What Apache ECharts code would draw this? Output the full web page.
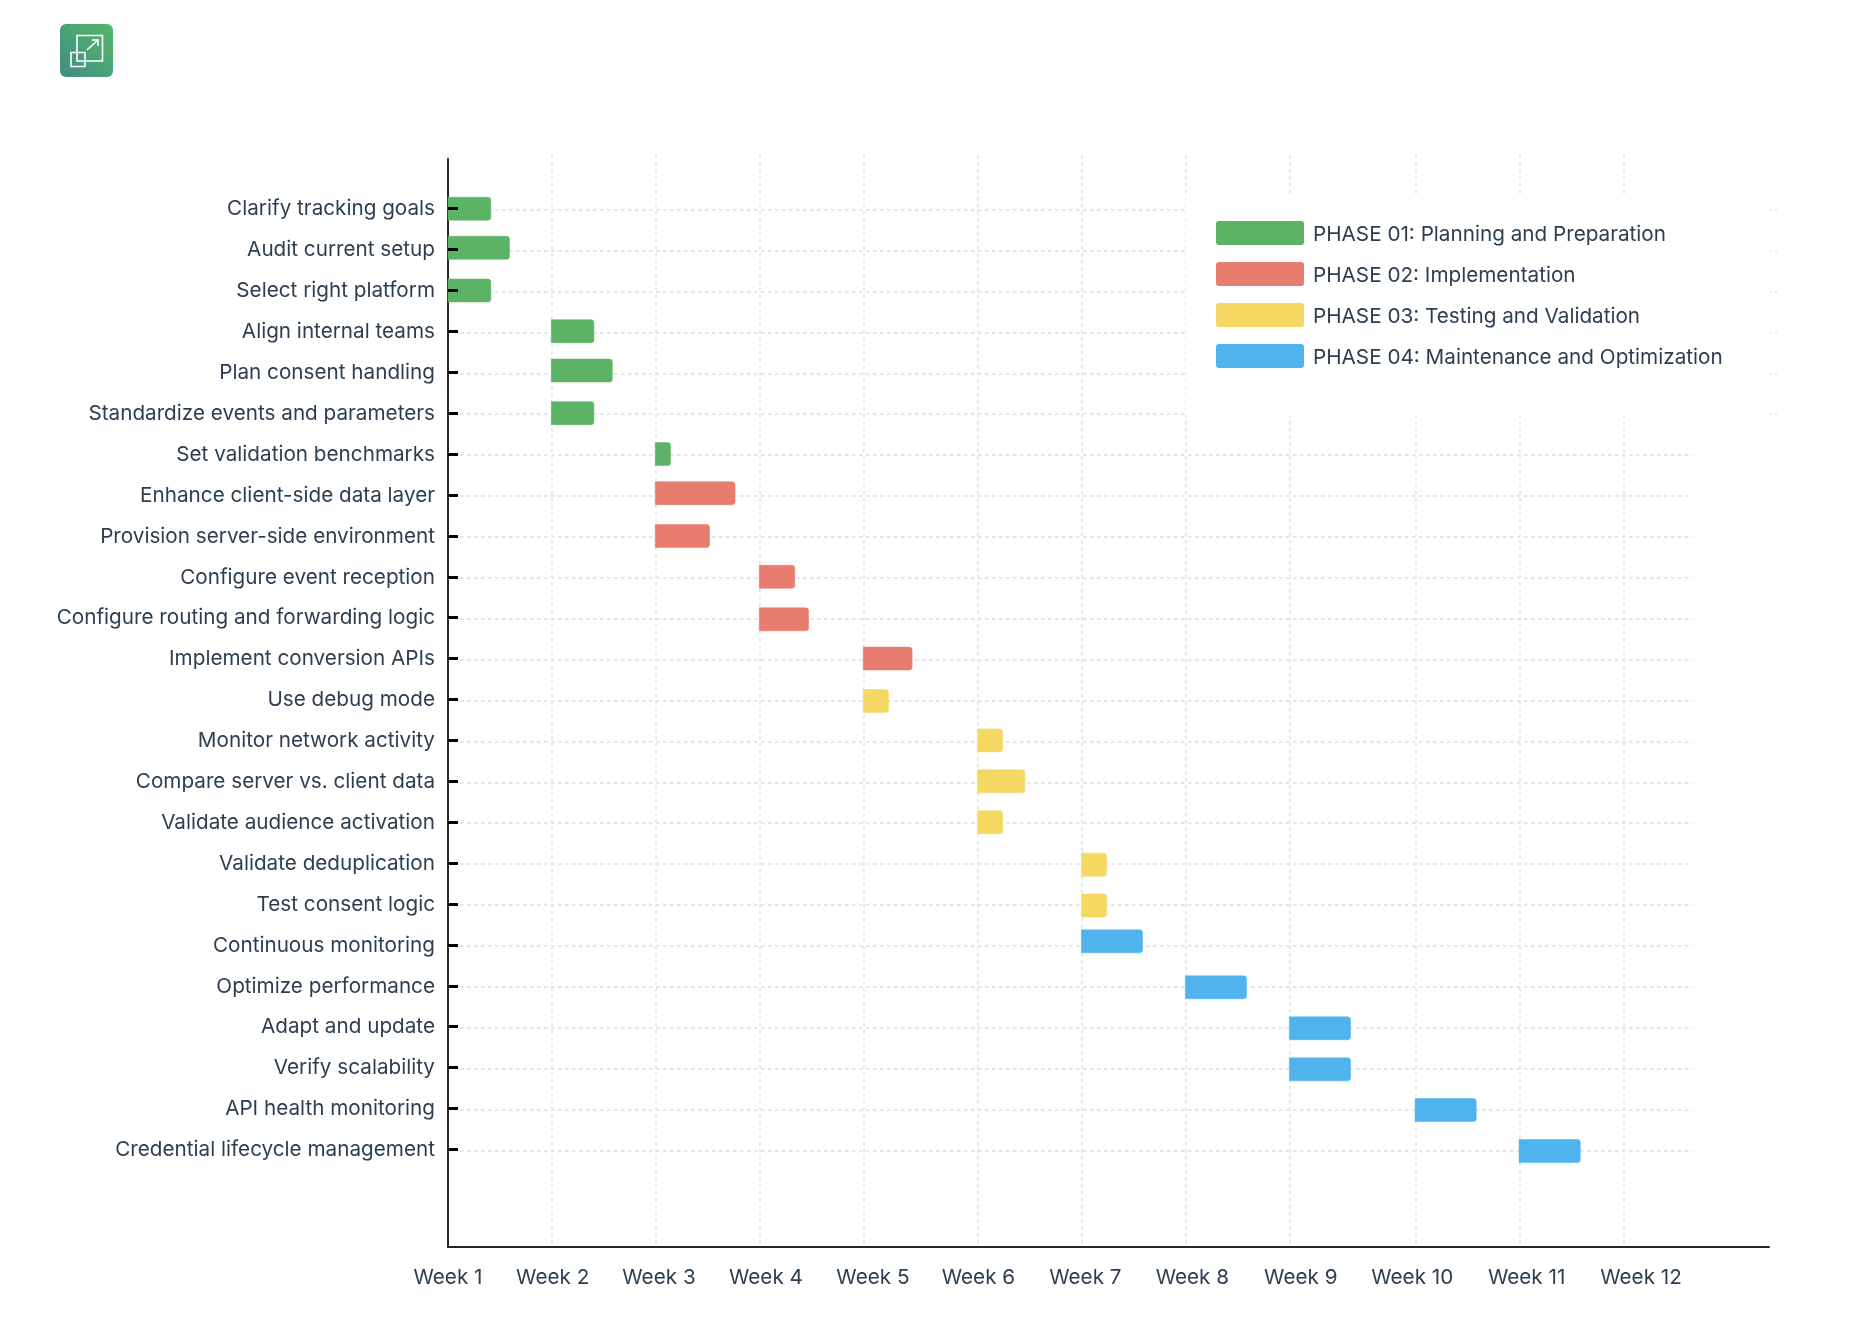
<!DOCTYPE html>
<html>
<head>
<meta charset="utf-8">
<title>Tracking rollout schedule</title>
<script src="https://cdn.jsdelivr.net/npm/echarts@6/dist/echarts.min.js"></script>
<style>
  html, body { margin: 0; padding: 0; background: #fff; }
  #chart { width: 1850px; height: 1318px; }
</style>
</head>
<body>
<div id="chart"></div>
<script>
// Schedule rows, top to bottom
const taskNames = [
  'Clarify tracking goals', 'Audit current setup', 'Select right platform',
  'Align internal teams', 'Plan consent handling', 'Standardize events and parameters',
  'Set validation benchmarks', 'Enhance client-side data layer', 'Provision server-side environment',
  'Configure event reception', 'Configure routing and forwarding logic', 'Implement conversion APIs',
  'Use debug mode', 'Monitor network activity', 'Compare server vs. client data',
  'Validate audience activation', 'Validate deduplication', 'Test consent logic',
  'Continuous monitoring', 'Optimize performance', 'Adapt and update',
  'Verify scalability', 'API health monitoring', 'Credential lifecycle management'
];
// Start of each task, in days from the project start
const taskStart = [
  0, 0, 0, 6.95, 6.95, 6.95, 13.95, 13.95, 13.95, 20.95, 20.95, 27.95,
  27.95, 35.63, 35.63, 35.63, 42.63, 42.63, 42.63, 49.63, 56.63, 56.63, 65.09, 72.09
];
// Length of each task, in days
const taskLength = [
  2.88, 4.14, 2.88, 2.87, 4.11, 2.87, 1.03, 5.37, 3.65, 2.39, 3.32, 3.29,
  1.7, 1.7, 3.2, 1.7, 1.7, 1.7, 4.12, 4.12, 4.12, 4.12, 4.12, 4.12
];
// Vertical placement of each bar relative to its row
const taskRowShift = [
  0, -0.044, 0, -0.005, -0.044, 0, 0, -0.044, 0, 0, 0.039, 0,
  0.037, 0, 0, 0, 0.039, 0.037, -0.088, 0.037, 0.039, 0.042, 0.037, 0.039
];
// Phase index of each task
const taskPhase = [
  0, 0, 0, 0, 0, 0, 0, 1, 1, 1, 1, 1,
  2, 2, 2, 2, 2, 2, 3, 3, 3, 3, 3, 3
];
const phaseNames = [
  'PHASE 01: Planning and Preparation',
  'PHASE 02: Implementation',
  'PHASE 03: Testing and Validation',
  'PHASE 04: Maintenance and Optimization'
];
const phaseColors = ['#5cb366', '#e87c6e', '#f4d862', '#4fb3ee'];
const phaseEdges = ['rgba(92,179,102,.5)', 'rgba(232,124,110,.5)', 'rgba(244,216,98,.5)', 'rgba(79,179,238,.5)'];
const weekLabels = ['Week 1', 'Week 2', 'Week 3', 'Week 4', 'Week 5', 'Week 6',
  'Week 7', 'Week 8', 'Week 9', 'Week 10', 'Week 11', 'Week 12'];
// Where each week's gridline falls and where its label sits, in days
const weekGridDays = [0, 7, 14, 21, 28, 35.67, 42.67, 49.67, 56.67, 65.13, 72.13, 79.13];
const weekLabelDays = [0, 7.05, 14.2, 21.4, 28.6, 35.7, 42.9, 50.1, 57.4, 64.9, 72.6, 80.3];
const rowIndex = taskNames.map((_, i) => i);

const TEXT = '#2c3e50';
const FONT = 'Inter';
const FONT_SIZE = 20.7;
const GRID_LINE = { color: '#e6e6e6', width: 1.8, type: [3.5, 3.5] };
const ROW_MIN = -1.313, ROW_MAX = 25.386;
const PLOT = { top: 155, height: 1092 };
const DAYS_PER_PX = 7 / 104;

const bareX = (gridIndex, max) => ({
  type: 'value', gridIndex, min: 0, max, position: 'bottom',
  axisLine: { show: false }, axisTick: { show: false }, axisLabel: { show: false }, splitLine: { show: false }
});
const bareY = (gridIndex, values) => ({
  type: 'value', gridIndex, inverse: true, min: ROW_MIN, max: ROW_MAX,
  axisLine: { show: false },
  axisTick: { show: false, customValues: values },
  axisLabel: { show: false },
  splitLine: values.length ? { show: true, lineStyle: GRID_LINE } : { show: false }
});

// One custom series per phase so the legend lists the phases
const series = phaseNames.map((name, p) => ({
  name,
  type: 'custom',
  xAxisIndex: 0,
  yAxisIndex: 0,
  itemStyle: { color: phaseColors[p] },
  encode: { x: [0, 1], y: 2 },
  clip: false,
  data: taskNames
    .map((_, i) => [taskStart[i], taskStart[i] + taskLength[i], i + taskRowShift[i], taskPhase[i]])
    .filter(d => d[3] === p),
  renderItem(params, api) {
    const a = api.coord([api.value(0), api.value(2)]);
    const b = api.coord([api.value(1), api.value(2)]);
    return {
      type: 'rect',
      shape: { x: a[0], y: a[1] - 11.5, width: b[0] - a[0], height: 23, r: [0, 3, 3, 0] },
      style: { fill: phaseColors[p], stroke: phaseEdges[p], lineWidth: 1 }
    };
  }
}));

const chart = echarts.init(document.getElementById('chart'), null, { renderer: 'canvas' });
chart.setOption({
  animation: false,
  backgroundColor: '#ffffff',
  textStyle: { fontFamily: FONT },
  grid: [
    { left: 448, width: 1329, ...PLOT },                // bars, week gridlines, labels
    { left: 448, width: 1321, top: 159, height: 1088 }, // axis frame
    { left: 460, width: 1233, ...PLOT },                // row gridlines
    { left: 1691, width: 86, ...PLOT }                  // row gridlines running past the plot at the top
  ],
  xAxis: [
    {
      type: 'value', gridIndex: 0, min: 0, max: 1329 * DAYS_PER_PX, position: 'bottom',
      axisLine: { show: false },
      axisTick: { show: false, customValues: weekGridDays },
      axisLabel: {
        customValues: weekLabelDays,
        formatter: (v) => weekLabels[weekLabelDays.indexOf(v)],
        color: TEXT, fontFamily: FONT, fontSize: FONT_SIZE, margin: 20,
        showMinLabel: true, showMaxLabel: true, hideOverlap: false
      },
      splitLine: { show: true, lineStyle: GRID_LINE }
    },
    {
      ...bareX(1, 1),
      axisLine: { show: true, onZero: false, lineStyle: { color: '#262626', width: 2 } }
    },
    bareX(2, 1),
    bareX(3, 1)
  ],
  yAxis: [
    {
      type: 'value', gridIndex: 0, inverse: true, min: ROW_MIN, max: ROW_MAX, z: 5,
      axisLine: { show: false },
      axisTick: { show: true, inside: true, length: 10, customValues: rowIndex, lineStyle: { color: '#000', width: 3 } },
      axisLabel: {
        customValues: rowIndex,
        formatter: (v) => '{t|' + taskNames[Math.round(v)] + '}',
        color: TEXT, fontFamily: FONT, fontSize: FONT_SIZE, margin: 13,
        rich: { t: { color: TEXT, fontFamily: FONT, fontSize: FONT_SIZE, padding: [1, 0, 0, 0] } },
        showMinLabel: true, showMaxLabel: true, hideOverlap: false
      },
      splitLine: { show: false }
    },
    {
      ...bareY(1, []),
      min: 0, max: 1,
      axisLine: { show: true, onZero: false, lineStyle: { color: '#262626', width: 2 } }
    },
    bareY(2, rowIndex.map(i => i + 0.024)),
    bareY(3, rowIndex.slice(0, 6).map(i => i + 0.024))
  ],
  legend: {
    orient: 'vertical',
    left: 1186,
    top: 195,
    padding: [26, 48, 48, 30],
    backgroundColor: '#ffffff',
    itemWidth: 88,
    itemHeight: 24,
    itemGap: 17,
    selectedMode: false,
    icon: 'path://M3,0H85A3,3 0 0 1 88,3V21A3,3 0 0 1 85,24H3A3,3 0 0 1 0,21V3A3,3 0 0 1 3,0Z',
    formatter: (name) => '{t|' + name + '}',
    textStyle: {
      color: TEXT, fontFamily: FONT, fontSize: FONT_SIZE,
      rich: { t: { color: TEXT, fontFamily: FONT, fontSize: FONT_SIZE, padding: [3, 0, 0, 4] } }
    },
    data: phaseNames
  },
  series,
  // App badge in the corner
  graphic: [{
    type: 'group',
    left: 60,
    top: 24,
    children: [
      {
        type: 'rect',
        shape: { x: 0, y: 0, width: 53, height: 53, r: 6 },
        style: {
          fill: new echarts.graphic.LinearGradient(0, 1, 1, 0, [
            { offset: 0, color: '#408c84' },
            { offset: 1, color: '#54b968' }
          ])
        }
      },
      { type: 'rect', shape: { x: 17, y: 11.5, width: 25.5, height: 25.5 }, style: { fill: 'none', stroke: '#fff', lineWidth: 1.6 } },
      { type: 'rect', shape: { x: 11, y: 28.5, width: 14, height: 14 }, style: { fill: 'none', stroke: '#fff', lineWidth: 1.6 } },
      { type: 'line', shape: { x1: 27, y1: 26, x2: 38, y2: 16 }, style: { stroke: '#fff', lineWidth: 1.6 } },
      { type: 'polyline', shape: { points: [[32, 16], [38, 16], [38, 22]] }, style: { fill: 'none', stroke: '#fff', lineWidth: 1.6 } }
    ]
  }]
});
</script>
</body>
</html>
